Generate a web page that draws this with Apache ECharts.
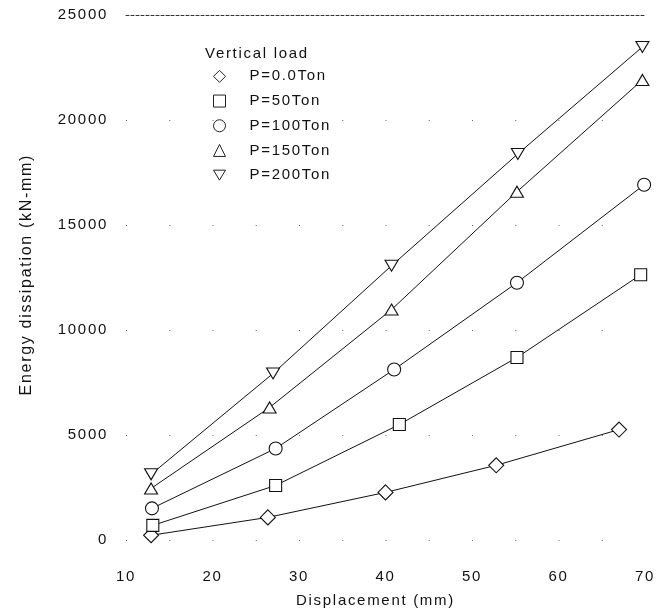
<!DOCTYPE html>
<html>
<head>
<meta charset="utf-8">
<script src="https://cdn.jsdelivr.net/npm/echarts@6/dist/echarts.min.js"></script>
<style>
  html, body { margin: 0; padding: 0; background: #fff; }
  #chart { width: 672px; height: 614px; }
</style>
</head>
<body>
<div id="chart"></div>
<script>
// Energy dissipation versus displacement for each vertical load level
const seriesNames = ['P=0.0Ton', 'P=50Ton', 'P=100Ton', 'P=150Ton', 'P=200Ton'];

const disp0   = [12.9, 26.4, 40.0, 52.8, 67.0];
const energy0 = [240, 1090, 2280, 3570, 5270];

const disp50   = [13.1, 27.3, 41.6, 55.2, 69.5];
const energy50 = [710, 2610, 5510, 8700, 12640];

const disp100   = [13.0, 27.3, 41.0, 55.2, 69.9];
const energy100 = [1520, 4370, 8130, 12260, 16920];

const disp150   = [12.9, 26.6, 40.7, 55.2, 69.7];
const energy150 = [2470, 6320, 10980, 16590, 21910];

const disp200   = [12.9, 27.0, 40.7, 55.3, 69.7];
const energy200 = [3140, 7940, 13070, 18390, 23480];

const xTicks = [10, 20, 30, 40, 50, 60, 70];
const yTicks = [0, 5000, 10000, 15000, 20000, 25000];

const pairs = (xs, ys) => xs.map((x, i) => [x, ys[i]]);

// Widely tracked lettering, as in typewriter-style plot labels
(function () {
  const proto = CanvasRenderingContext2D.prototype;
  const fill = proto.fillText, measure = proto.measureText;
  proto.fillText = function () { this.letterSpacing = '1.7px'; return fill.apply(this, arguments); };
  proto.measureText = function () { this.letterSpacing = '1.7px'; return measure.apply(this, arguments); };
})();

const font = 'Liberation Sans, Arial, sans-serif';
const ink = '#111';
const fs = 15;
const triDown = 'path://M0,0 L12,0 L6,10 Z';

const markers = [
  { symbol: 'diamond', size: [15, 15], icon: 'diamond' },
  { symbol: 'rect', size: [12, 12], icon: 'rect' },
  { symbol: 'circle', size: [13, 13], icon: 'circle' },
  { symbol: 'triangle', size: [13, 11], icon: 'triangle' },
  { symbol: triDown, size: [13, 11], icon: triDown }
];
const dataSets = [
  pairs(disp0, energy0),
  pairs(disp50, energy50),
  pairs(disp100, energy100),
  pairs(disp150, energy150),
  pairs(disp200, energy200)
];

const chart = echarts.init(document.getElementById('chart'), null, { renderer: 'canvas' });

chart.setOption({
  backgroundColor: '#fff',
  animation: false,
  title: {
    text: 'Vertical load',
    left: 200,
    top: 41,
    textStyle: { fontFamily: font, fontSize: fs, fontWeight: 'normal', color: ink }
  },
  legend: {
    orient: 'vertical',
    left: 213,
    top: 68,
    padding: 0,
    itemGap: 8,
    itemWidth: 12,
    itemHeight: 12,
    data: seriesNames.map((n, i) => ({ name: n, icon: markers[i].icon })),
    itemStyle: { color: '#fff', borderColor: '#222', borderWidth: 1 },
    textStyle: { fontFamily: font, fontSize: fs, color: ink, padding: [0, 0, 0, 19] }
  },
  grid: { left: 126, right: 27, top: 15, bottom: 73 },
  xAxis: [
    {
      type: 'value',
      min: xTicks[0], max: xTicks[xTicks.length - 1], interval: 10,
      position: 'bottom',
      name: 'Displacement (mm)',
      nameLocation: 'middle',
      nameMoveOverlap: false,
      nameGap: 52,
      nameTextStyle: { fontFamily: font, fontSize: fs, color: ink, padding: [0, 20, 0, 0] },
      axisLine: { show: false },
      axisTick: { show: false },
      splitLine: { show: false },
      axisLabel: { fontFamily: font, fontSize: fs, color: ink, margin: 28, formatter: v => String(v) }
    },
    {
      // dashed frame line along the top of the plot
      type: 'value',
      min: xTicks[0], max: xTicks[xTicks.length - 1], interval: 10,
      position: 'top',
      axisLine: { show: true, lineStyle: { color: '#333', type: [3, 2], width: 1 } },
      axisTick: { show: false },
      axisLabel: { show: false },
      splitLine: { show: false }
    }
  ],
  yAxis: {
    type: 'value',
    min: yTicks[0], max: yTicks[yTicks.length - 1], interval: 5000,
    name: 'Energy dissipation (kN-mm)',
    nameLocation: 'middle',
    nameMoveOverlap: false,
    nameGap: 91,
    nameTextStyle: { fontFamily: font, fontSize: 16, color: ink, padding: [0, 0, 0, 6] },
    axisLine: { show: false },
    axisTick: { show: false },
    axisLabel: { fontFamily: font, fontSize: fs, color: ink, margin: 18, formatter: v => String(v) },
    // faint grid dots at every 5 mm along each energy level
    splitLine: { show: true, lineStyle: { color: '#666', width: 1, type: [1, 42.25] } }
  },
  series: dataSets.map((d, i) => ({
    name: seriesNames[i],
    type: 'line',
    xAxisIndex: 0,
    data: d,
    symbol: markers[i].symbol,
    symbolSize: markers[i].size,
    showAllSymbol: true,
    lineStyle: { color: '#111', width: 1 },
    itemStyle: { color: '#fff', borderColor: '#111', borderWidth: 1.1 },
    emphasis: { disabled: true },
    z: 2
  }))
});
</script>
</body>
</html>
